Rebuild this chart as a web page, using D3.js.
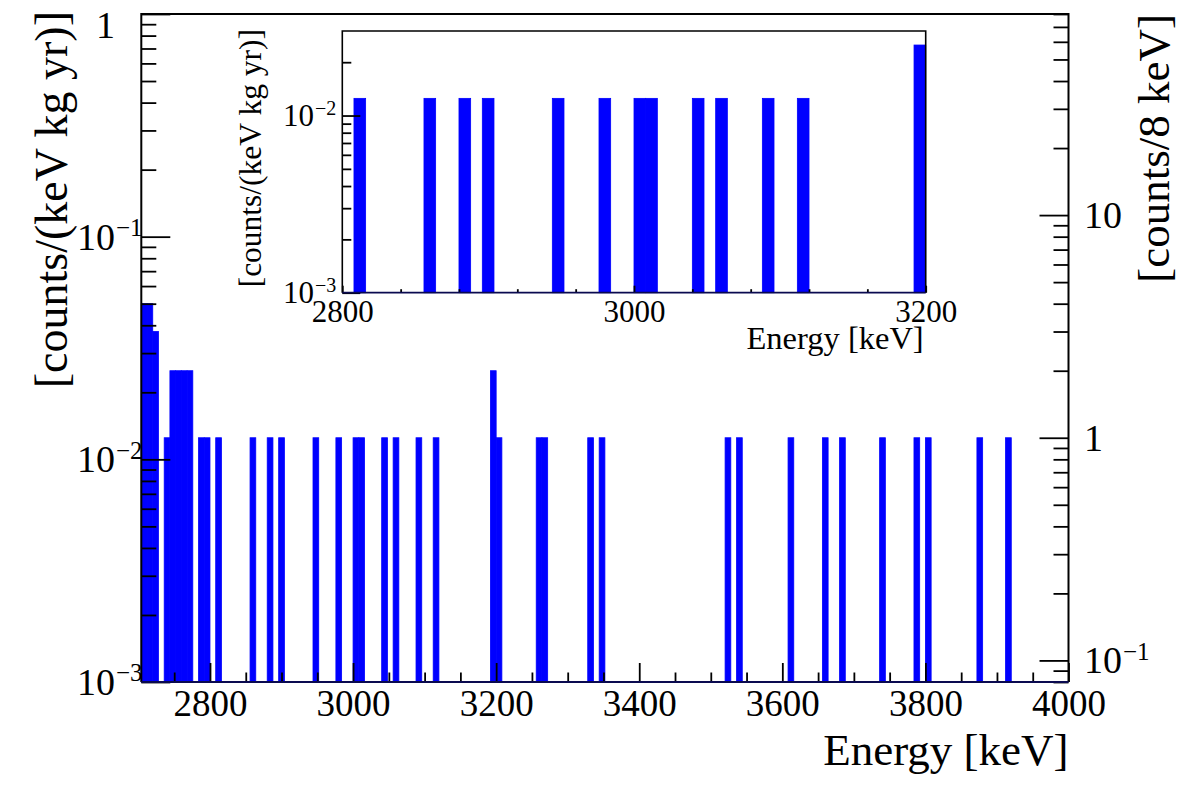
<!DOCTYPE html>
<html>
<head>
<meta charset="utf-8">
<script src="https://cdn.jsdelivr.net/npm/d3@7"></script>
<style>
body { margin: 0; background: #fff; }
svg { display: block; font-family: 'Liberation Serif', 'Times New Roman', serif; }
</style>
</head>
<body>
<svg id="plot" width="1182" height="803"></svg>
<script>

// low edge of each filled 8 keV bin [keV] and its number of counts
const binLow = [2704, 2712, 2720, 2736, 2744, 2752, 2760, 2768, 2784, 2792,
                2808, 2856, 2880, 2896, 2944, 2976, 3000, 3008, 3040, 3056,
                3088, 3112, 3192, 3200, 3256, 3264, 3328, 3344, 3520, 3536,
                3608, 3656, 3680, 3736, 3784, 3800, 3872, 3912];
const binCounts = [4, 4, 3, 1, 2, 2, 2, 2, 1, 1,
                   1, 1, 1, 1, 1, 1, 1, 1, 1, 1,
                   1, 1, 2, 1, 1, 1, 1, 1, 1, 1,
                   1, 1, 1, 1, 1, 1, 1, 1];
const binWidth = 8;     // keV
const exposure = 10;    // kg yr

// axis ranges and tick labels
const energyRange = [2704, 4000];
const rateRange = [1e-3, 1];
const countRange = [0.08, 80];
const energyLabels = [2800, 3000, 3200, 3400, 3600, 3800, 4000];
const rateLabels = [1e-3, 1e-2, 1e-1, 1];
const countLabels = [0.1, 1, 10];

const insetEnergyRange = [2800, 3200];
const insetRateRange = [1e-3, 0.03];
const insetEnergyLabels = [2800, 3000, 3200];
const insetRateLabels = [1e-3, 1e-2];

d3.select(window).on('load', init);

function init() {

    let svg = d3.select('#plot');
    let bins = binLow.map((e, i) => ({lo: e, hi: e + binWidth, v: binCounts[i] / (binWidth * exposure)}));

    // ---- main pad
    let m = {left: 141.3, right: 1068.5, top: 14, bottom: 682};

    let x = d3.scaleLinear().domain(energyRange).range([m.left, m.right]),
        y = d3.scaleLog().domain(rateRange).range([m.bottom, m.top]),
        yR = d3.scaleLog().domain(countRange).range([m.bottom, m.top]);

    drawBars(svg, bins, x, y, rateRange[0]);

    let isMajor = v => Math.abs(Math.log10(v) - Math.round(Math.log10(v))) < 1e-6;

    // bottom axis: minor every 50 keV, major every 200 keV
    tickAxis(svg, d3.axisBottom(x), 'translate(0,' + m.bottom + ')',
        d3.range(2750, 4000, 50).filter(v => v % 200 != 0), -9.5);
    let xa = tickAxis(svg, d3.axisBottom(x), 'translate(0,' + m.bottom + ')', energyLabels, -19, d3.format('d'), 8);
    xa.selectAll('text').attr('font-size', 37);

    // left axis
    tickAxis(svg, d3.axisLeft(y), 'translate(' + m.left + ',0)', y.ticks().filter(v => !isMajor(v)), -15);
    tickAxis(svg, d3.axisLeft(y), 'translate(' + m.left + ',0)', y.ticks().filter(isMajor), -29);
    rateLabels.forEach(v => powLabel(svg, v, 115, y(v), 'end', 38, 25));

    // right axis, counts per bin
    tickAxis(svg, d3.axisRight(yR), 'translate(' + m.right + ',0)', yR.ticks().filter(v => !isMajor(v)), -15);
    tickAxis(svg, d3.axisRight(yR), 'translate(' + m.right + ',0)', yR.ticks().filter(isMajor), -29);
    countLabels.forEach(v => powLabel(svg, v, 1084, yR(v), 'start', 38, 25));

    // frame
    svg.append('path')
        .attr('d', 'M' + m.left + ',' + m.bottom + 'V' + m.top + 'H' + m.right + 'V' + m.bottom)
        .attr('fill', 'none').attr('stroke', '#000').attr('stroke-width', 2);
    svg.append('line')
        .attr('x1', m.left).attr('x2', m.right).attr('y1', m.bottom).attr('y2', m.bottom)
        .attr('stroke', '#0a0a50').attr('stroke-width', 2.2);

    // titles
    svg.append('text')
        .attr('x', m.right).attr('y', 765)
        .attr('text-anchor', 'end').attr('font-size', 45)
        .text('Energy [keV]');
    svg.append('text')
        .attr('transform', 'translate(67,11) rotate(-90)')
        .attr('text-anchor', 'end').attr('font-size', 46)
        .text('[counts/(keV kg yr)]');
    svg.append('text')
        .attr('transform', 'translate(1169,14) rotate(-90)')
        .attr('text-anchor', 'end').attr('font-size', 45)
        .text('[counts/8 keV]');

    // ---- inset pad
    let p = {left: 342.3, right: 925.7, top: 31, bottom: 292.7};

    let xi = d3.scaleLinear().domain(insetEnergyRange).range([p.left, p.right]),
        yi = d3.scaleLog().domain(insetRateRange).range([p.bottom, p.top]);

    svg.append('rect')
        .attr('x', p.left).attr('y', p.top)
        .attr('width', p.right - p.left).attr('height', p.bottom - p.top)
        .attr('fill', '#fff');

    drawBars(svg, bins.filter(d => d.lo >= insetEnergyRange[0] && d.hi <= insetEnergyRange[1]),
        xi, yi, insetRateRange[0]);

    tickAxis(svg, d3.axisBottom(xi), 'translate(0,' + p.bottom + ')',
        d3.range(2840, 3200, 40).filter(v => v != 3000), -3.5);
    let xia = tickAxis(svg, d3.axisBottom(xi), 'translate(0,' + p.bottom + ')', insetEnergyLabels, -7, d3.format('d'), 7);
    xia.selectAll('text').attr('font-size', 31);

    tickAxis(svg, d3.axisLeft(yi), 'translate(' + p.left + ',0)',
        yi.ticks().filter(v => !isMajor(v) && v < insetRateRange[1] * 0.99), -9);
    tickAxis(svg, d3.axisLeft(yi), 'translate(' + p.left + ',0)', yi.ticks().filter(isMajor), -18);
    insetRateLabels.forEach(v => powLabel(svg, v, 314, yi(v), 'end', 31, 20));

    svg.append('path')
        .attr('d', 'M' + p.left + ',' + p.bottom + 'V' + p.top + 'H' + p.right + 'V' + p.bottom)
        .attr('fill', 'none').attr('stroke', '#000').attr('stroke-width', 1.6);
    svg.append('line')
        .attr('x1', p.left).attr('x2', p.right).attr('y1', p.bottom).attr('y2', p.bottom)
        .attr('stroke', '#0a0a50').attr('stroke-width', 1.8);

    svg.append('text')
        .attr('x', p.right - 2).attr('y', 349)
        .attr('text-anchor', 'end').attr('font-size', 32.5)
        .text('Energy [keV]');
    svg.append('text')
        .attr('transform', 'translate(261,' + (p.top - 2) + ') rotate(-90)')
        .attr('text-anchor', 'end').attr('font-size', 31.5)
        .text('[counts/(keV kg yr)]');
}

// filled histogram bins, a thin same colour stroke closes the gaps between neighbours
function drawBars(svg, data, x, y, floor) {
    svg.append('g')
        .selectAll('rect')
        .data(data)
        .enter()
        .append('rect')
        .attr('x', d => x(d.lo))
        .attr('width', d => x(d.hi) - x(d.lo))
        .attr('y', d => y(d.v))
        .attr('height', d => y(floor) - y(d.v))
        .attr('fill', '#0000ff')
        .attr('stroke', '#0000ff')
        .attr('stroke-width', 0.8);
}

// draws one set of inward ticks with a d3 axis; labels only when a format is given
function tickAxis(svg, axis, transform, values, size, format, pad) {
    axis.tickValues(values)
        .tickSizeInner(size)
        .tickSizeOuter(0)
        .tickPadding(pad || 0)
        .tickFormat(format || '');
    let g = svg.append('g')
        .attr('transform', transform)
        .call(axis);
    g.select('.domain').remove();
    g.selectAll('line').attr('stroke', '#000').attr('stroke-width', 1.8);
    g.attr('font-family', null).attr('font-size', null);
    g.selectAll('text').attr('fill', '#000');
    return g;
}

// ROOT style log label: 1, 10 or 10 with a raised exponent; kept inside the page at the top
function powLabel(svg, v, x0, ty, anchor, size, supSize) {
    let e = Math.round(Math.log10(v));
    let base = e == 0 ? '1' : '10';
    let by = Math.max(ty + size * 0.34, 12 + size * 0.68);
    svg.append('text')
        .attr('x', x0).attr('y', by)
        .attr('text-anchor', anchor).attr('font-size', size)
        .text(base);
    if (e < 0) {
        let sx = anchor == 'end' ? x0 + 1 : x0 + size + 1;
        svg.append('text')
            .attr('x', sx).attr('y', by - size * 0.36)
            .attr('font-size', supSize)
            .text('\u2212' + (-e));
    }
}
</script>
</body>
</html>
